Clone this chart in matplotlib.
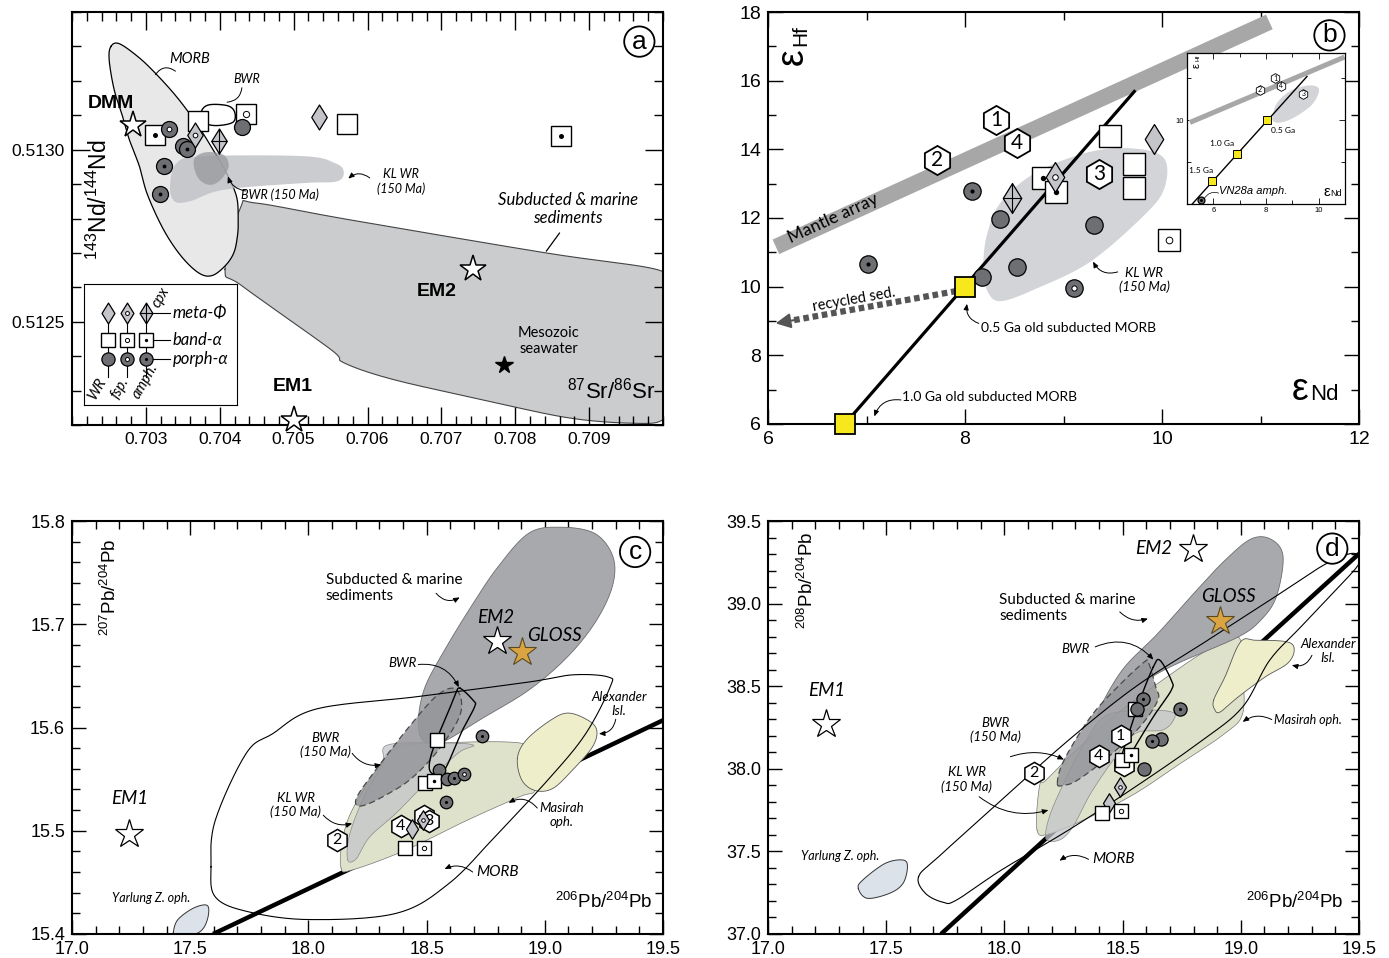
import numpy as np
import matplotlib
matplotlib.use("Agg")
import matplotlib.pyplot as plt
from matplotlib.path import Path
from matplotlib.ticker import FixedLocator, FormatStrFormatter

plt.rcParams['font.family'] = ['Liberation Sans', 'DejaVu Sans']
plt.rcParams['mathtext.fontset'] = 'custom'
plt.rcParams['mathtext.rm'] = 'Liberation Sans'
plt.rcParams['mathtext.it'] = 'Liberation Sans:italic'
LAB = ['Lato', 'DejaVu Sans']

# ======================= DATA =======================
# ---- panel a : 87Sr/86Sr vs 143Nd/144Nd ----
A_XTICKS = [0.703, 0.704, 0.705, 0.706, 0.707, 0.708, 0.709]
A_YTICKS = [0.5125, 0.5130]
A_KIND = ['sq', 'sq_amph', 'ci_fsp', 'ci', 'ci_amph', 'di_fsp', 'di_cpx', 'sq_fsp', 'ci',
          'ci_amph', 'ci_amph', 'di', 'sq', 'sq_amph']
A_X = [0.70370, 0.70313, 0.70331, 0.70350, 0.70356, 0.70366, 0.70399, 0.70436, 0.70430,
       0.70325, 0.70319, 0.70535, 0.70572, 0.70862]
A_Y = [0.513083, 0.513044, 0.513060, 0.513010, 0.513002, 0.513044, 0.513024, 0.513104, 0.513066,
       0.512952, 0.512871, 0.513095, 0.513075, 0.513039]
A_STAR_X = [0.70282, 0.70743, 0.70501]
A_STAR_Y = [0.513073, 0.512652, 0.512215]
A_STAR_LAB = ['DMM', 'EM2', 'EM1']
A_SEAWATER_X = [0.70785]
A_SEAWATER_Y = [0.512373]
A_MORB_X = [0.702527, 0.702639, 0.702888, 0.703116, 0.703411, 0.703683, 0.703909, 0.704091, 0.704227,
            0.704250, 0.704240, 0.704190, 0.704071, 0.703893, 0.703714, 0.703476, 0.703238, 0.703020,
            0.702912, 0.702776, 0.702684, 0.702571, 0.702503]
A_MORB_Y = [0.513300, 0.513308, 0.513271, 0.513225, 0.513155, 0.513077, 0.513000, 0.512932, 0.512864,
            0.512800, 0.512750, 0.512700, 0.512662, 0.512634, 0.512642, 0.512691, 0.512768, 0.512870,
            0.512952, 0.513029, 0.513097, 0.513174, 0.513261]
A_SED_X = [0.704071, 0.704280, 0.704488, 0.705738, 0.708416, 0.709875, 0.710035, 0.710083, 0.710083,
           0.709994, 0.709607, 0.708714, 0.707524, 0.706333, 0.705678, 0.705500, 0.704309]
A_SED_Y = [0.512652, 0.512831, 0.512845, 0.512797, 0.512700, 0.512654, 0.512618, 0.512565, 0.512275,
           0.512215, 0.512205, 0.512221, 0.512275, 0.512333, 0.512381, 0.512420, 0.512603]
A_KL_X = [0.703417, 0.703774, 0.705143, 0.705559, 0.705678, 0.705589, 0.705143, 0.704071, 0.703595,
          0.703387, 0.703327]
A_KL_Y = [0.512961, 0.512981, 0.512981, 0.512961, 0.512937, 0.512908, 0.512903, 0.512884, 0.512850,
          0.512850, 0.512894]
A_BWR150_X = [0.70365, 0.70380, 0.70405, 0.70412, 0.70400, 0.70385, 0.70370]
A_BWR150_Y = [0.512970, 0.512992, 0.512985, 0.512950, 0.512910, 0.512898, 0.512920]
A_BWR_X = [0.70375, 0.70385, 0.70410, 0.70420, 0.70418, 0.70395, 0.70378]
A_BWR_Y = [0.513110, 0.513130, 0.513128, 0.513110, 0.513080, 0.513070, 0.513080]

# ---- panel b : eNd vs eHf ----
B_KIND = ['ci_amph', 'ci_amph', 'ci', 'ci', 'ci', 'ci', 'ci_fsp', 'di_cpx', 'sq_amph', 'sq_amph',
          'di_fsp', 'sq', 'sq', 'sq', 'di', 'sq_fsp']
B_X = [8.073, 7.02, 8.358, 8.526, 8.177, 9.311, 9.107, 8.481, 8.789, 8.921, 8.912, 9.469, 9.714,
       9.714, 9.918, 10.068]
B_Y = [12.78, 10.66, 11.97, 10.58, 10.28, 11.79, 9.97, 12.57, 13.17, 12.76, 13.20, 14.38, 13.57,
       12.88, 14.29, 11.36]
B_HEX_LAB = ['1', '2', '3', '4']
B_HEX_X = [8.313, 7.719, 9.365, 8.526]
B_HEX_Y = [14.85, 13.68, 13.27, 14.17]
B_MANTLE_X = [6.08, 11.09]
B_MANTLE_Y = [11.16, 17.71]
B_MORB_X = [6.78, 9.73]
B_MORB_Y = [6.00, 15.72]
B_AGE_X = [6.78, 8.00]
B_AGE_Y = [6.00, 10.00]
B_SED_X = [7.914, 6.077]
B_SED_Y = [9.872, 8.931]
B_KL_X = [8.222, 8.367, 8.730, 9.274, 9.728, 10.023, 10.023, 9.819, 9.274, 8.730, 8.367, 8.231, 8.186]
B_KL_Y = [11.50, 12.47, 13.34, 13.93, 14.02, 13.73, 12.86, 12.08, 10.73, 9.95, 9.58, 9.85, 10.53]
# inset
BI_LINE_X = [5.2, 9.556]
BI_LINE_Y = [0.0, 15.2]
BI_AGE_X = [8.02, 6.91, 5.96]
BI_AGE_Y = [10.0, 6.0, 2.72]
BI_AGE_LAB = ['0.5 Ga', '1.0 Ga', '1.5 Ga']
BI_MANTLE_X = [5.11, 10.98]
BI_MANTLE_Y = [9.72, 17.52]
BI_HEX_X = [8.349, 7.765, 9.416, 8.565]
BI_HEX_Y = [15.0, 13.64, 13.12, 14.12]
BI_KL_X = [8.248, 8.438, 8.946, 9.581, 9.962, 9.987, 9.708, 9.073, 8.565, 8.286]
BI_KL_Y = [10.52, 12.12, 13.52, 14.12, 13.92, 13.12, 11.72, 10.32, 9.72, 9.84]
BI_VN_X = [5.52]
BI_VN_Y = [0.52]

# ---- panel c : 206Pb/204Pb vs 207Pb/204Pb ----
C_KIND = ['sq', 'ci_amph', 'ci', 'sq', 'sq_amph', 'ci', 'ci_amph', 'ci_fsp', 'ci_amph',
          'sq', 'sq_fsp', 'di', 'di_fsp']
C_X = [18.545, 18.735, 18.554, 18.493, 18.530, 18.586, 18.614, 18.660, 18.580,
       18.409, 18.487, 18.437, 18.483]
C_Y = [15.588, 15.592, 15.559, 15.546, 15.548, 15.550, 15.551, 15.555, 15.528,
       15.483, 15.483, 15.502, 15.510]
C_HEX_LAB = ['', '2', '3', '4']          # hexagon 1 is hidden behind the other symbols
C_HEX_X = [18.487, 18.119, 18.511, 18.390]
C_HEX_Y = [15.514, 15.491, 15.509, 15.505]
C_STAR_X = [17.243, 18.797]
C_STAR_Y = [15.497, 15.684]
C_GLOSS_X = [18.903]
C_GLOSS_Y = [15.673]
C_REF_X = [17.597, 19.5]
C_REF_Y = [15.400, 15.607]
C_SED_X = [18.465, 18.493, 18.576, 18.688, 18.800, 18.931, 19.062, 19.211, 19.289, 19.285, 19.211,
           19.090, 18.931, 18.744, 18.558, 18.483]
C_SED_Y = [15.607, 15.639, 15.675, 15.717, 15.755, 15.788, 15.794, 15.788, 15.765, 15.736, 15.701,
           15.667, 15.636, 15.610, 15.585, 15.588]
C_BWR150_X = [18.203, 18.213, 18.315, 18.427, 18.539, 18.614, 18.647, 18.632, 18.539, 18.427, 18.315, 18.241]
C_BWR150_Y = [15.525, 15.536, 15.568, 15.601, 15.630, 15.638, 15.626, 15.607, 15.575, 15.549, 15.533, 15.525]
C_KL_X = [18.166, 18.175, 18.241, 18.315, 18.334, 18.558, 18.698, 18.632, 18.483, 18.371, 18.259, 18.203]
C_KL_Y = [15.472, 15.497, 15.536, 15.565, 15.583, 15.585, 15.583, 15.575, 15.543, 15.517, 15.494, 15.473]
C_MAS_X = [18.138, 18.144, 18.185, 18.297, 18.371, 18.558, 18.838, 18.931, 18.959, 18.959, 18.894,
           18.670, 18.409, 18.185]
C_MAS_Y = [15.464, 15.491, 15.520, 15.562, 15.581, 15.585, 15.586, 15.581, 15.562, 15.539, 15.533,
           15.510, 15.481, 15.462]
C_ALX_X = [18.884, 18.922, 19.024, 19.099, 19.183, 19.220, 19.201, 19.118, 19.034, 18.959, 18.903]
C_ALX_Y = [15.570, 15.588, 15.607, 15.614, 15.607, 15.597, 15.581, 15.559, 15.541, 15.539, 15.549]
C_MORB_X = [17.588, 17.606, 17.737, 17.849, 18.035, 18.465, 18.931, 19.118, 19.267, 19.276, 19.173,
            19.024, 18.800, 18.595, 18.371, 17.998, 17.737, 17.606]
C_MORB_Y = [15.465, 15.510, 15.575, 15.594, 15.618, 15.630, 15.644, 15.651, 15.649, 15.639, 15.594,
            15.552, 15.497, 15.449, 15.420, 15.414, 15.422, 15.436]
C_BWR_X = [18.642, 18.698, 18.703, 18.651, 18.576, 18.530, 18.511, 18.530, 18.595, 18.623]
C_BWR_Y = [15.638, 15.626, 15.620, 15.597, 15.559, 15.555, 15.562, 15.581, 15.617, 15.633]
C_YZ_X = [17.429, 17.448, 17.513, 17.569, 17.578, 17.560, 17.522, 17.438]
C_YZ_Y = [15.402, 15.414, 15.425, 15.428, 15.420, 15.407, 15.400, 15.397]

# ---- panel d : 206Pb/204Pb vs 208Pb/204Pb ----
D_KIND = ['sq', 'ci_amph', 'ci', 'ci_amph', 'ci', 'ci_amph', 'sq', 'sq_amph', 'ci', 'di_fsp',
          'di', 'sq', 'sq_fsp']
D_X = [18.551, 18.587, 18.560, 18.744, 18.662, 18.626, 18.498, 18.536, 18.592, 18.488,
       18.441, 18.413, 18.492]
D_Y = [38.365, 38.421, 38.359, 38.365, 38.183, 38.167, 38.052, 38.083, 37.996, 37.887,
       37.790, 37.730, 37.746]
D_HEX_LAB = ['1', '2', '', '4']          # hexagon 3 is hidden behind the squares
D_HEX_X = [18.492, 18.125, 18.507, 18.399]
D_HEX_Y = [38.198, 37.972, 38.022, 38.079]
D_STAR_X = [17.246, 18.797]
D_STAR_Y = [38.274, 39.333]
D_GLOSS_X = [18.914]
D_GLOSS_Y = [38.895]
D_REF_X = [17.732, 19.5]
D_REF_Y = [37.000, 39.302]
D_SED_X = [18.394, 18.498, 18.649, 18.800, 18.933, 19.046, 19.131, 19.179, 19.150, 19.084, 18.989,
           18.762, 18.649, 18.536, 18.441]
D_SED_Y = [38.335, 38.597, 38.819, 39.060, 39.262, 39.393, 39.387, 39.282, 39.040, 38.899, 38.798,
           38.657, 38.577, 38.476, 38.375]
D_BWR150_X = [18.224, 18.252, 18.365, 18.479, 18.592, 18.611, 18.640, 18.649, 18.573, 18.441, 18.309, 18.252]
D_BWR150_Y = [37.911, 38.052, 38.315, 38.496, 38.647, 38.637, 38.496, 38.415, 38.254, 38.073, 37.931, 37.901]
D_MAS_X = [18.138, 18.148, 18.176, 18.290, 18.479, 18.668, 18.857, 18.989, 19.008, 19.008, 18.933,
           18.744, 18.554, 18.365, 18.195]
D_MAS_Y = [37.629, 37.891, 37.931, 38.093, 38.335, 38.536, 38.718, 38.798, 38.577, 38.335, 38.214,
           38.032, 37.851, 37.710, 37.609]
D_KL_X = [18.176, 18.195, 18.271, 18.346, 18.422, 18.554, 18.706, 18.715, 18.668, 18.554, 18.460,
          18.365, 18.290, 18.233]
D_KL_Y = [37.579, 37.730, 37.972, 38.173, 38.315, 38.355, 38.345, 38.294, 38.234, 38.214, 38.052,
          37.851, 37.649, 37.569]
D_ALX_X = [18.885, 18.933, 18.999, 19.065, 19.197, 19.226, 19.197, 19.103, 18.989, 18.914, 18.891]
D_ALX_Y = [38.415, 38.556, 38.768, 38.778, 38.768, 38.718, 38.637, 38.556, 38.435, 38.345, 38.355]
D_MORB_X = [17.637, 17.722, 17.987, 18.271, 18.554, 18.838, 19.122, 19.349, 19.462, 19.500, 19.491,
            19.387, 19.254, 19.122, 19.008, 18.838, 18.554, 18.271, 17.987, 17.798, 17.741, 17.666]
D_MORB_Y = [37.347, 37.468, 37.810, 38.173, 38.496, 38.758, 39.020, 39.232, 39.302, 39.282, 39.222,
            39.060, 38.859, 38.657, 38.375, 38.173, 37.891, 37.629, 37.387, 37.206, 37.192, 37.246]
D_BWR_X = [18.630, 18.658, 18.706, 18.706, 18.630, 18.536, 18.507, 18.488, 18.517, 18.573]
D_BWR_Y = [38.617, 38.657, 38.536, 38.476, 38.315, 38.093, 38.012, 38.032, 38.173, 38.415]
D_YZ_X = [17.382, 17.401, 17.495, 17.571, 17.590, 17.571, 17.514, 17.420]
D_YZ_Y = [37.276, 37.327, 37.427, 37.448, 37.407, 37.306, 37.246, 37.216]

# ======================= HELPERS =======================
DIAMOND = Path([(0, 1), (0.62, 0), (0, -1), (-0.62, 0), (0, 1)],
               [Path.MOVETO, Path.LINETO, Path.LINETO, Path.LINETO, Path.CLOSEPOLY])
CROSS = Path([(0, 1), (0, -1), (-0.62, 0), (0.62, 0)],
             [Path.MOVETO, Path.LINETO, Path.MOVETO, Path.LINETO])
CIRC_C = '#6e6f73'
DIAM_C = '#c4c5cb'
YEL = '#f6e81c'
GOLD = '#d9a441'


def smooth(xs, ys, n=16):
    P = np.column_stack([xs, ys]).astype(float)
    m = len(P)
    t = np.linspace(0, 1, n, endpoint=False)[:, None]
    out = []
    for i in range(m):
        p0, p1, p2, p3 = P[i - 1], P[i], P[(i + 1) % m], P[(i + 2) % m]
        out.append(0.5 * (2 * p1 + (-p0 + p2) * t + (2 * p0 - 5 * p1 + 4 * p2 - p3) * t ** 2
                          + (-p0 + 3 * p1 - 3 * p2 + p3) * t ** 3))
    out = np.vstack(out)
    return np.vstack([out, out[:1]])


def region(ax, xs, ys, fc='none', ec='k', lw=0.8, ls='-', alpha=1.0, z=2):
    pts = smooth(xs, ys)
    if fc != 'none':
        ax.fill(pts[:, 0], pts[:, 1], fc=fc, ec='none', alpha=alpha, zorder=z)
    if ec != 'none':
        ax.plot(pts[:, 0], pts[:, 1], color=ec, lw=lw, ls=ls, zorder=z + 0.01)


def draw_points(ax, kinds, xs, ys, sq, ci, di, z=10):
    for k, x, y in zip(kinds, xs, ys):
        base, _, inner = k.partition('_')
        if base == 'sq':
            ax.plot(x, y, marker='s', ms=sq, mfc='white', mec='k', mew=1.0, zorder=z)
            s = sq
        elif base == 'ci':
            ax.plot(x, y, marker='o', ms=ci, mfc=CIRC_C, mec='k', mew=0.9, zorder=z)
            s = ci
        else:
            ax.plot(x, y, marker=DIAMOND, ms=di, mfc=DIAM_C, mec='k', mew=0.9, zorder=z)
            s = di * 0.62
        if inner == 'amph':
            ax.plot(x, y, marker='o', ms=max(s * 0.24, 2.2), mfc='k', mec='k', mew=0, zorder=z + 0.5)
        elif inner == 'fsp':
            ax.plot(x, y, marker='o', ms=max(s * 0.3, 2.6), mfc='white', mec='k', mew=0.7, zorder=z + 0.5)
        elif inner == 'cpx':
            ax.plot(x, y, marker=CROSS, ms=di, mfc='none', mec='k', mew=0.8, zorder=z + 0.5)
        z += 1


def draw_hex(ax, xs, ys, labs, ms, fs, z=9, mew=1.1):
    for x, y, lab in zip(xs, ys, labs):
        ax.plot(x, y, marker='h', ms=ms, mfc='white', mec='k', mew=mew, zorder=z)
        if lab:
            ax.text(x, y, lab, ha='center', va='center', fontsize=fs, zorder=z + 0.1, family=LAB)


def note(ax, start, end, rad=0.3, lw=0.7, head=True):
    style = '-|>,head_length=0.35,head_width=0.15' if head else '-'
    ax.annotate('', xy=end, xytext=start,
                arrowprops=dict(arrowstyle=style, color='k', lw=lw,
                                connectionstyle='arc3,rad=%s' % rad, shrinkA=0, shrinkB=0),
                zorder=30)


def frame(ax, xlim, ylim, xmaj, xmin, ymaj, ymin, xfmt, yfmt, fs=13, maj=11, mnr=6):
    ax.set_xlim(*xlim)
    ax.set_ylim(*ylim)
    ax.xaxis.set_major_locator(FixedLocator(xmaj))
    ax.xaxis.set_minor_locator(FixedLocator(xmin))
    ax.yaxis.set_major_locator(FixedLocator(ymaj))
    ax.yaxis.set_minor_locator(FixedLocator(ymin))
    ax.xaxis.set_major_formatter(FormatStrFormatter(xfmt))
    ax.yaxis.set_major_formatter(FormatStrFormatter(yfmt))
    ax.tick_params(which='both', direction='in', top=True, right=True, width=1.0, labelsize=fs)
    ax.tick_params(which='major', length=maj, pad=5)
    ax.tick_params(which='minor', length=mnr)
    for s in ax.spines.values():
        s.set_linewidth(1.5)


def panel_label(ax, x, y, lab):
    ax.text(x, y, lab, fontsize=19, ha='center', va='center', zorder=40,
            bbox=dict(boxstyle='circle,pad=0.12', fc='white', ec='k', lw=1.3))


def screen_angle(ax, xs, ys):
    p = ax.transData.transform(np.column_stack([xs, ys]))
    return np.degrees(np.arctan2(p[1, 1] - p[0, 1], p[1, 0] - p[0, 0]))


# ======================= FIGURE =======================
fig = plt.figure(figsize=(13.89, 9.58), dpi=100)
axa = fig.add_axes([72 / 1389, 1 - 425 / 958, 591 / 1389, 413 / 958])
axb = fig.add_axes([768 / 1389, 1 - 424 / 958, 591 / 1389, 412 / 958])
axc = fig.add_axes([72 / 1389, 1 - 934 / 958, 591 / 1389, 413 / 958])
axd = fig.add_axes([768 / 1389, 1 - 934 / 958, 591 / 1389, 413 / 958])

# ---------------- panel a ----------------
ax = axa
frame(ax, (0.7020, 0.7100), (0.5122, 0.5134), A_XTICKS, np.arange(0.7020, 0.71001, 0.0002),
      A_YTICKS, np.arange(0.5122, 0.51341, 0.0001), '%.3f', '%.4f', fs=12.5, maj=13, mnr=6.5)
region(ax, A_SED_X, A_SED_Y, fc='#cbcccd', ec='#444444', lw=0.8, z=1)
region(ax, A_MORB_X, A_MORB_Y, fc='#e8e8e9', ec='k', lw=0.9, z=2)
region(ax, A_KL_X, A_KL_Y, fc='#bfc0c4', ec='none', alpha=0.8, z=3)
region(ax, A_BWR150_X, A_BWR150_Y, fc='#98999d', ec='none', alpha=0.75, z=3.5)
region(ax, A_BWR_X, A_BWR_Y, fc='none', ec='k', lw=1.0, z=4)
draw_points(ax, A_KIND, A_X, A_Y, sq=15, ci=11.5, di=18)
ax.plot(A_STAR_X, A_STAR_Y, ls='none', marker='*', ms=20, mfc='white', mec='k', mew=1.1, zorder=40,
        clip_on=False)
ax.plot(A_SEAWATER_X, A_SEAWATER_Y, ls='none', marker='*', ms=13, mfc='k', mec='k', zorder=40)
ax.text(0.70252, 0.513133, A_STAR_LAB[0], fontsize=14, fontweight='bold', ha='center', va='center', zorder=41)
ax.text(0.70693, 0.512589, A_STAR_LAB[1], fontsize=14, fontweight='bold', ha='center', va='center', zorder=41)
ax.text(0.70499, 0.512313, A_STAR_LAB[2], fontsize=14, fontweight='bold', ha='center', va='center', zorder=41)
ax.text(0.70845, 0.512444, 'Mesozoic\nseawater', fontsize=10.5, ha='center', va='center', family=LAB)
ax.text(0.70930, 0.512299, r'$^{87}$Sr/$^{86}$Sr', fontsize=16, ha='center', va='center')
ax.text(0.70237, 0.512856, r'$^{143}$Nd/$^{144}$Nd', fontsize=16.5, ha='center', va='center', rotation=90)
ax.text(0.70359, 0.513262, 'MORB', fontsize=10.5, style='italic', ha='center', va='center', family=LAB)
note(ax, (0.70340, 0.513228), (0.70313, 0.513218), rad=0.5, head=False)
ax.text(0.70437, 0.513205, 'BWR', fontsize=9, style='italic', ha='center', va='center', family=LAB)
note(ax, (0.70430, 0.513180), (0.70410, 0.513138), rad=-0.4, head=False)
ax.text(0.70481, 0.512868, 'BWR (150 Ma)', fontsize=9, style='italic', ha='center', va='center', family=LAB)
note(ax, (0.70435, 0.512880), (0.70411, 0.512922), rad=-0.3)
ax.text(0.70645, 0.512908, 'KL WR\n(150 Ma)', fontsize=9, style='italic', ha='center', va='center', family=LAB)
note(ax, (0.70603, 0.512918), (0.70574, 0.512916), rad=0.4)
ax.text(0.70871, 0.512828, 'Subducted & marine\nsediments', fontsize=12, style='italic', ha='center',
        va='center', family=LAB)
note(ax, (0.70860, 0.512758), (0.70842, 0.512705), rad=0, head=False, lw=0.9)
panel_label(ax, 0.70968, 0.513314, 'a')

# legend box (inside panel a)
lg = ax.inset_axes([0.020, 0.048, 0.260, 0.293])
lg.set_xlim(0, 1)
lg.set_ylim(0, 1)
lg.set_xticks([])
lg.set_yticks([])
for s in lg.spines.values():
    s.set_linewidth(0.8)
LEG_COLS = [0.159, 0.283, 0.403]
LEG_ROWS = [0.758, 0.537, 0.380]
for cx in LEG_COLS:
    lg.plot([cx, cx], [0.234, LEG_ROWS[0]], color='k', lw=0.8, zorder=1)
for ry in LEG_ROWS:
    lg.plot([LEG_COLS[2], 0.562], [ry, ry], color='k', lw=0.8, zorder=1)
draw_points(lg, ['di', 'di_fsp', 'di_cpx'], LEG_COLS, [LEG_ROWS[0]] * 3, sq=10, ci=9.5, di=15)
draw_points(lg, ['sq', 'sq_fsp', 'sq_amph'], LEG_COLS, [LEG_ROWS[1]] * 3, sq=10, ci=9.5, di=15)
draw_points(lg, ['ci', 'ci_fsp', 'ci_amph'], LEG_COLS, [LEG_ROWS[2]] * 3, sq=10, ci=9.5, di=15)
for ry, t in zip(LEG_ROWS, ['meta-Φ', 'band-α', 'porph-α']):
    lg.text(0.577, ry, t, fontsize=12, style='italic', ha='left', va='center', family=LAB)
for (tx, ty), t in zip([(0.085, 0.13), (0.235, 0.145), (0.40, 0.20), (0.50, 0.89)],
                       ['WR', 'fsp.', 'amph.', 'cpx']):
    lg.text(tx, ty, t, fontsize=10.5, style='italic', ha='center', va='center', rotation=60, family=LAB)

# ---------------- panel b ----------------
ax = axb
frame(ax, (6, 12), (6, 18), [6, 8, 10, 12], np.arange(6, 12.01, 1), np.arange(6, 18.01, 2),
      np.arange(6, 18.01, 1), '%d', '%d', fs=14, maj=11, mnr=6)
region(ax, B_KL_X, B_KL_Y, fc='#d3d4d7', ec='none', z=1)
ax.plot(B_MANTLE_X, B_MANTLE_Y, color='#a7a7a7', lw=11.5, solid_capstyle='butt', zorder=2)
ang = screen_angle(ax, B_MANTLE_X, B_MANTLE_Y)
ax.text(6.66, 11.98, 'Mantle array', fontsize=12.5, rotation=ang, ha='center', va='center',
        rotation_mode='anchor', family=LAB, zorder=3)
ax.plot(B_MORB_X, B_MORB_Y, color='k', lw=2.3, zorder=4, solid_capstyle='butt')
ax.plot(B_SED_X[0:1] + [B_SED_X[1] + 0.08], B_SED_Y[0:1] + [B_SED_Y[1] + 0.04], color='#555555', lw=4.5,
        ls=(0, (0.9, 0.6)), zorder=4)
ax.annotate('', xy=(B_SED_X[1], B_SED_Y[1]), xytext=(B_SED_X[1] + 0.2, B_SED_Y[1] + 0.1),
            arrowprops=dict(arrowstyle='-|>,head_length=0.9,head_width=0.45', color='#555555',
                            lw=1.5, shrinkA=0, shrinkB=0), zorder=5)
ang2 = screen_angle(ax, B_SED_X[::-1], B_SED_Y[::-1])
ax.text(6.87, 9.62, 'recycled sed.', fontsize=10.5, rotation=ang2, ha='center', va='center',
        rotation_mode='anchor', family=LAB)
ax.plot(B_AGE_X, B_AGE_Y, ls='none', marker='s', ms=15, mfc=YEL, mec='k', mew=1.3, zorder=20,
        clip_on=False)
draw_points(ax, B_KIND, B_X, B_Y, sq=16, ci=12.5, di=21.5)
draw_hex(ax, B_HEX_X, B_HEX_Y, B_HEX_LAB, ms=21, fs=15, z=25, mew=1.3)
ax.text(9.82, 10.19, 'KL WR\n(150 Ma)', fontsize=9.5, style='italic', ha='center', va='center', family=LAB)
note(ax, (9.55, 10.43), (9.30, 10.73), rad=-0.4)
ax.text(8.16, 8.79, '0.5 Ga old subducted MORB', fontsize=10, ha='left', va='center', family=LAB)
note(ax, (8.14, 8.93), (8.02, 9.50), rad=-0.4)
ax.text(7.36, 6.80, '1.0 Ga old subducted MORB', fontsize=10, ha='left', va='center', family=LAB)
note(ax, (7.35, 6.70), (7.08, 6.22), rad=0.4)
ax.text(11.40, 6.70, 'ε', fontsize=27, ha='center', va='baseline')
ax.text(11.50, 6.70, 'Nd', fontsize=16, ha='left', va='baseline')
ax.text(6.43, 16.69, 'ε', fontsize=27, ha='right', va='center', rotation=90)
ax.text(6.43, 17.32, 'Hf', fontsize=15, ha='right', va='center', rotation=90)
panel_label(ax, 11.70, 17.32, 'b')

# inset in b
axi = fig.add_axes([1187 / 1389, 1 - 204 / 958, 158 / 1389, 151 / 958])
axi.set_xlim(5, 11)
axi.set_ylim(0, 18)
axi.xaxis.set_major_locator(FixedLocator([6, 8, 10]))
axi.xaxis.set_minor_locator(FixedLocator([5, 7, 9, 11]))
axi.yaxis.set_major_locator(FixedLocator([10]))
axi.yaxis.set_minor_locator(FixedLocator([5, 15]))
axi.tick_params(which='both', direction='in', top=True, right=True, labelsize=5.5, width=0.6, pad=2)
axi.tick_params(which='major', length=4)
axi.tick_params(which='minor', length=3)
for s in axi.spines.values():
    s.set_linewidth(0.9)
region(axi, BI_KL_X, BI_KL_Y, fc='#d3d4d7', ec='none', z=1)
axi.plot(BI_MANTLE_X, BI_MANTLE_Y, color='#a7a7a7', lw=3.6, solid_capstyle='butt', zorder=2)
axi.plot(BI_LINE_X, BI_LINE_Y, color='k', lw=1.0, zorder=3)
axi.plot(BI_AGE_X, BI_AGE_Y, ls='none', marker='s', ms=5.5, mfc=YEL, mec='k', mew=0.7, zorder=5)
draw_hex(axi, BI_HEX_X, BI_HEX_Y, ['1', '2', '3', '4'], ms=7, fs=5, z=6, mew=0.6)
draw_points(axi, ['ci_amph'], BI_VN_X, BI_VN_Y, sq=5, ci=5, di=6)
axi.text(8.18, 8.8, BI_AGE_LAB[0], fontsize=6, ha='left', va='center', family=LAB)
axi.text(6.32, 7.2, BI_AGE_LAB[1], fontsize=6, ha='center', va='center', family=LAB)
axi.text(5.52, 3.95, BI_AGE_LAB[2], fontsize=6, ha='center', va='center', family=LAB)
axi.text(6.22, 1.52, 'VN28a amph.', fontsize=8, style='italic', ha='left', va='center')
note(axi, (6.2, 1.3), (5.65, 0.6), rad=0.4, lw=0.5, head=False)
axi.text(10.30, 1.0, 'ε', fontsize=11, ha='center', va='baseline')
axi.text(10.45, 1.0, 'Nd', fontsize=6.5, ha='left', va='baseline')
axi.text(5.35, 16.5, 'ε', fontsize=8, ha='center', va='center', rotation=90)
axi.text(5.40, 17.45, 'Hf', fontsize=4.5, ha='center', va='center', rotation=90)

# ---------------- panel c ----------------
ax = axc
frame(ax, (17.0, 19.5), (15.4, 15.8), np.arange(17.0, 19.51, 0.5), np.arange(17.0, 19.51, 0.1),
      np.arange(15.4, 15.81, 0.1), np.arange(15.4, 15.81, 0.02), '%.1f', '%.1f', fs=13, maj=10, mnr=6)
ax.plot(C_REF_X, C_REF_Y, color='k', lw=3.2, zorder=1.5, solid_capstyle='butt')
region(ax, C_YZ_X, C_YZ_Y, fc='#dce2ea', ec='#333333', lw=0.7, z=2)
region(ax, C_MAS_X, C_MAS_Y, fc='#dfe2cb', ec='#777777', lw=0.5, z=2)
region(ax, C_ALX_X, C_ALX_Y, fc='#eeeecb', ec='#555555', lw=0.6, z=2.2)
region(ax, C_SED_X, C_SED_Y, fc='#a8a9ad', ec='#6d6d6d', lw=0.6, z=3)
region(ax, C_KL_X, C_KL_Y, fc='#c4c5c9', ec='#8a8a8a', lw=0.5, alpha=0.75, z=4)
region(ax, C_BWR150_X, C_BWR150_Y, fc='#95969a', ec='#4a4a4a', lw=0.9, ls=(0, (5, 3)), alpha=0.85, z=5)
region(ax, C_MORB_X, C_MORB_Y, fc='none', ec='k', lw=0.8, z=6)
region(ax, C_BWR_X, C_BWR_Y, fc='none', ec='k', lw=1.0, z=7)
draw_hex(ax, C_HEX_X, C_HEX_Y, C_HEX_LAB, ms=16, fs=11.5, z=9)
draw_points(ax, C_KIND, C_X, C_Y, sq=10.5, ci=9, di=14)
ax.plot(C_STAR_X, C_STAR_Y, ls='none', marker='*', ms=21, mfc='white', mec='k', mew=0.9, zorder=40)
ax.plot(C_GLOSS_X, C_GLOSS_Y, ls='none', marker='*', ms=21, mfc=GOLD, mec='#5a4a20', mew=0.8, zorder=40)
ax.text(17.243, 15.531, 'EM1', fontsize=13.5, style='italic', ha='center', va='center', family=LAB)
ax.text(18.791, 15.707, 'EM2', fontsize=13.5, style='italic', ha='center', va='center', family=LAB)
ax.text(19.039, 15.689, 'GLOSS', fontsize=13.5, style='italic', ha='center', va='center', family=LAB)
ax.text(18.073, 15.735, 'Subducted & marine\nsediments', fontsize=11, ha='left', va='center', family=LAB)
note(ax, (18.54, 15.730), (18.64, 15.726), rad=0.4)
ax.text(18.399, 15.662, 'BWR', fontsize=9.5, style='italic', ha='center', va='center', family=LAB)
note(ax, (18.465, 15.661), (18.636, 15.639), rad=-0.35)
ax.text(18.073, 15.583, 'BWR\n(150 Ma)', fontsize=9.5, style='italic', ha='center', va='center', family=LAB)
note(ax, (18.185, 15.575), (18.308, 15.564), rad=0.3)
ax.text(17.946, 15.525, 'KL WR\n(150 Ma)', fontsize=9.5, style='italic', ha='center', va='center', family=LAB)
note(ax, (18.063, 15.515), (18.185, 15.507), rad=0.3)
ax.text(19.071, 15.515, 'Masirah\noph.', fontsize=9.5, style='italic', ha='center', va='center', family=LAB)
note(ax, (18.968, 15.522), (18.847, 15.527), rad=0.4)
ax.text(19.313, 15.623, 'Alexander\nIsl.', fontsize=9.5, style='italic', ha='center', va='center', family=LAB)
note(ax, (19.300, 15.608), (19.229, 15.594), rad=-0.4)
ax.text(18.800, 15.460, 'MORB', fontsize=11, style='italic', ha='center', va='center', family=LAB)
note(ax, (18.695, 15.460), (18.576, 15.463), rad=0.3)
ax.text(17.336, 15.435, 'Yarlung Z. oph.', fontsize=9, style='italic', ha='center', va='center', family=LAB)
ax.text(19.248, 15.431, r'$^{206}$Pb/$^{204}$Pb', fontsize=13.5, ha='center', va='center')
ax.text(17.160, 15.736, r'$^{207}$Pb/$^{204}$Pb', fontsize=13.5, ha='center', va='center', rotation=90)
panel_label(ax, 19.382, 15.770, 'c')

# ---------------- panel d ----------------
ax = axd
frame(ax, (17.0, 19.5), (37.0, 39.5), np.arange(17.0, 19.51, 0.5), np.arange(17.0, 19.51, 0.1),
      np.arange(37.0, 39.51, 0.5), np.arange(37.0, 39.51, 0.1), '%.1f', '%.1f', fs=13, maj=10, mnr=6)
ax.plot(D_REF_X, D_REF_Y, color='k', lw=3.2, zorder=1.5, solid_capstyle='butt')
region(ax, D_YZ_X, D_YZ_Y, fc='#dce2ea', ec='#333333', lw=0.7, z=2)
region(ax, D_MAS_X, D_MAS_Y, fc='#dfe2cb', ec='#777777', lw=0.5, z=2)
region(ax, D_ALX_X, D_ALX_Y, fc='#eeeecb', ec='#555555', lw=0.6, z=2.2)
region(ax, D_SED_X, D_SED_Y, fc='#a8a9ad', ec='#6d6d6d', lw=0.6, z=3)
region(ax, D_KL_X, D_KL_Y, fc='#c4c5c9', ec='#8a8a8a', lw=0.5, alpha=0.75, z=4)
region(ax, D_BWR150_X, D_BWR150_Y, fc='#95969a', ec='#4a4a4a', lw=0.9, ls=(0, (5, 3)), alpha=0.85, z=5)
region(ax, D_MORB_X, D_MORB_Y, fc='none', ec='k', lw=0.8, z=6)
region(ax, D_BWR_X, D_BWR_Y, fc='none', ec='k', lw=1.0, z=7)
draw_hex(ax, D_HEX_X, D_HEX_Y, D_HEX_LAB, ms=16, fs=11.5, z=9)
draw_points(ax, D_KIND, D_X, D_Y, sq=10.5, ci=9.5, di=14)
ax.plot(D_STAR_X, D_STAR_Y, ls='none', marker='*', ms=21, mfc='white', mec='k', mew=0.9, zorder=40)
ax.plot(D_GLOSS_X, D_GLOSS_Y, ls='none', marker='*', ms=21, mfc=GOLD, mec='#5a4a20', mew=0.8, zorder=40)
ax.text(17.246, 38.476, 'EM1', fontsize=13.5, style='italic', ha='center', va='center', family=LAB)
ax.text(18.630, 39.333, 'EM2', fontsize=13.5, style='italic', ha='center', va='center', family=LAB)
ax.text(18.948, 39.040, 'GLOSS', fontsize=13.5, style='italic', ha='center', va='center', family=LAB)
ax.text(17.978, 38.974, 'Subducted & marine\nsediments', fontsize=11, ha='left', va='center', family=LAB)
note(ax, (18.488, 38.950), (18.607, 38.909), rad=0.3)
ax.text(18.299, 38.728, 'BWR', fontsize=9.5, style='italic', ha='center', va='center', family=LAB)
note(ax, (18.384, 38.738), (18.630, 38.661), rad=-0.35)
ax.text(17.964, 38.234, 'BWR\n(150 Ma)', fontsize=9.5, style='italic', ha='center', va='center', family=LAB)
note(ax, (18.025, 38.073), (18.252, 38.056), rad=-0.2)
ax.text(17.840, 37.935, 'KL WR\n(150 Ma)', fontsize=9.5, style='italic', ha='center', va='center', family=LAB)
note(ax, (17.893, 37.831), (18.186, 37.750), rad=0.25)
ax.text(19.141, 38.298, 'Masirah oph.', fontsize=9, style='italic', ha='left', va='center', family=LAB)
note(ax, (19.131, 38.298), (19.008, 38.284), rad=0.3)
ax.text(19.368, 38.714, 'Alexander\nIsl.', fontsize=9.5, style='italic', ha='center', va='center', family=LAB)
note(ax, (19.301, 38.687), (19.216, 38.627), rad=-0.4)
ax.text(18.460, 37.452, 'MORB', fontsize=11, style='italic', ha='center', va='center', family=LAB)
note(ax, (18.356, 37.452), (18.233, 37.444), rad=0.3)
ax.text(17.306, 37.472, 'Yarlung Z. oph.', fontsize=9, style='italic', ha='center', va='center', family=LAB)
ax.text(19.226, 37.196, r'$^{206}$Pb/$^{204}$Pb', fontsize=13.5, ha='center', va='center')
ax.text(17.165, 39.141, r'$^{208}$Pb/$^{204}$Pb', fontsize=13.5, ha='center', va='center', rotation=90)
panel_label(ax, 19.387, 39.333, 'd')

fig.savefig('out.png', dpi=100)
